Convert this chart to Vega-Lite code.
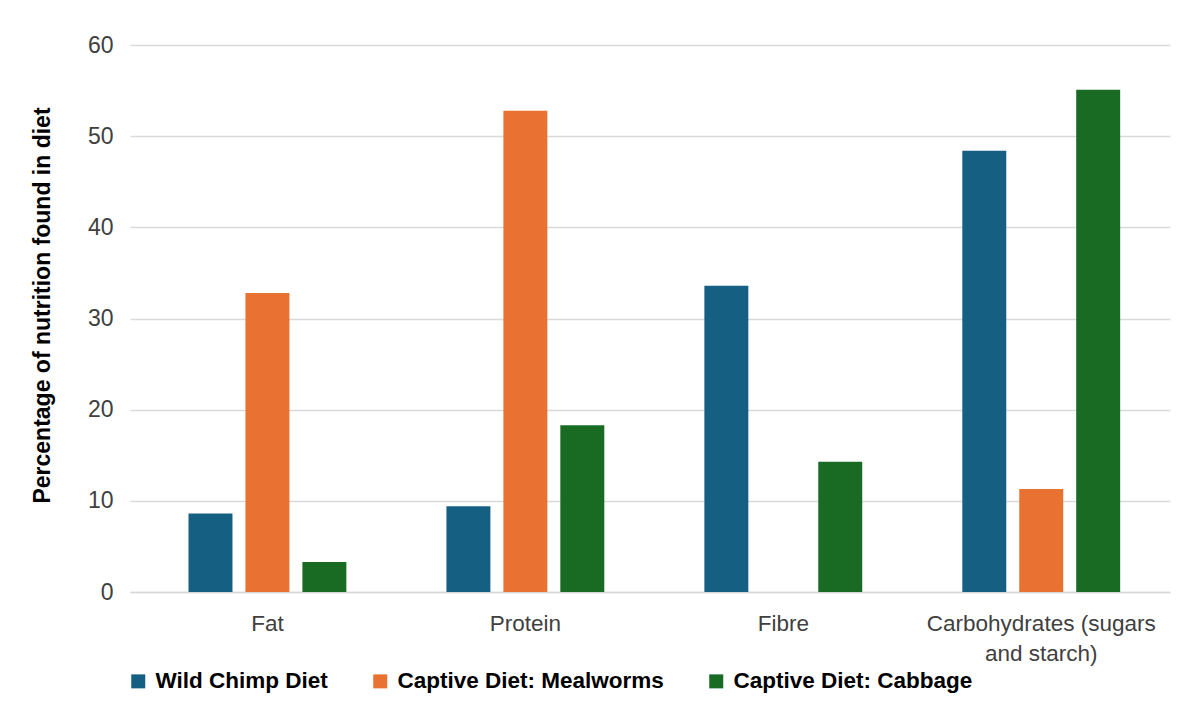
{
  "$schema": "https://vega.github.io/schema/vega-lite/v6.json",
  "autosize": {"type": "none"},
  "width": 1040,
  "height": 547,
  "padding": {"left": 130, "top": 45, "right": 9, "bottom": 109},
  "background": "white",
  "config": {
    "view": {"stroke": null},
    "font": "Liberation Sans"
  },
  "data": {
    "values": [
      {"nutrient": "Fat", "diet": "Wild Chimp Diet", "value": 8.6},
      {"nutrient": "Fat", "diet": "Captive Diet: Mealworms", "value": 32.8},
      {"nutrient": "Fat", "diet": "Captive Diet: Cabbage", "value": 3.3},
      {"nutrient": "Protein", "diet": "Wild Chimp Diet", "value": 9.4},
      {"nutrient": "Protein", "diet": "Captive Diet: Mealworms", "value": 52.8},
      {"nutrient": "Protein", "diet": "Captive Diet: Cabbage", "value": 18.3},
      {"nutrient": "Fibre", "diet": "Wild Chimp Diet", "value": 33.6},
      {"nutrient": "Fibre", "diet": "Captive Diet: Mealworms", "value": 0},
      {"nutrient": "Fibre", "diet": "Captive Diet: Cabbage", "value": 14.3},
      {"nutrient": "Carbohydrates (sugars and starch)", "diet": "Wild Chimp Diet", "value": 48.4},
      {"nutrient": "Carbohydrates (sugars and starch)", "diet": "Captive Diet: Mealworms", "value": 11.3},
      {"nutrient": "Carbohydrates (sugars and starch)", "diet": "Captive Diet: Cabbage", "value": 55.1}
    ]
  },
  "mark": {"type": "bar"},
  "encoding": {
    "x": {
      "field": "nutrient",
      "type": "nominal",
      "sort": ["Fat", "Protein", "Fibre", "Carbohydrates (sugars and starch)"],
      "scale": {"paddingInner": 0.388, "paddingOuter": 0.21, "align": 0.54},
      "axis": {
        "title": null,
        "labelAngle": 0,
        "labelFont": "Liberation Sans",
        "labelFontSize": 22.5,
        "labelColor": "#404040",
        "labelPadding": 20,
        "labelLineHeight": 30,
        "labelLimit": 400,
        "labelExpr": "datum.value == 'Carbohydrates (sugars and starch)' ? ['Carbohydrates (sugars', 'and starch)'] : datum.value",
        "ticks": false,
        "domain": true,
        "domainColor": "#d9d9d9",
        "domainWidth": 1.5,
        "grid": false
      }
    },
    "xOffset": {
      "field": "diet",
      "type": "nominal",
      "sort": ["Wild Chimp Diet", "Captive Diet: Mealworms", "Captive Diet: Cabbage"],
      "scale": {"paddingInner": 0.228, "paddingOuter": 0}
    },
    "y": {
      "field": "value",
      "type": "quantitative",
      "scale": {"domain": [0, 60]},
      "axis": {
        "title": "Percentage of nutrition found in  diet",
        "titleFont": "Liberation Sans",
        "titleFontSize": 23,
        "titleFontWeight": "bold",
        "titleColor": "#000000",
        "titleX": -88,
        "titleY": 260,
        "titleAlign": "center",
        "titleBaseline": "middle",
        "values": [0, 10, 20, 30, 40, 50, 60],
        "labelFont": "Liberation Sans",
        "labelFontSize": 23,
        "labelColor": "#404040",
        "labelPadding": 17,
        "ticks": false,
        "domain": false,
        "grid": true,
        "gridColor": "#d9d9d9",
        "gridWidth": 1.5
      }
    },
    "color": {
      "field": "diet",
      "type": "nominal",
      "sort": ["Wild Chimp Diet", "Captive Diet: Mealworms", "Captive Diet: Cabbage"],
      "scale": {
        "domain": ["Wild Chimp Diet", "Captive Diet: Mealworms", "Captive Diet: Cabbage"],
        "range": ["#156082", "#E97132", "#196B24"]
      },
      "legend": {
        "title": null,
        "orient": "none",
        "direction": "horizontal",
        "legendX": -3,
        "legendY": 625,
        "padding": 0,
        "symbolType": "square",
        "symbolSize": 196,
        "symbolStrokeWidth": 0,
        "labelFont": "Liberation Sans",
        "labelFontSize": 22.5,
        "labelFontWeight": "bold",
        "labelColor": "#000000",
        "labelOffset": 6,
        "columnPadding": 41,
        "labelLimit": 400
      }
    }
  }
}
